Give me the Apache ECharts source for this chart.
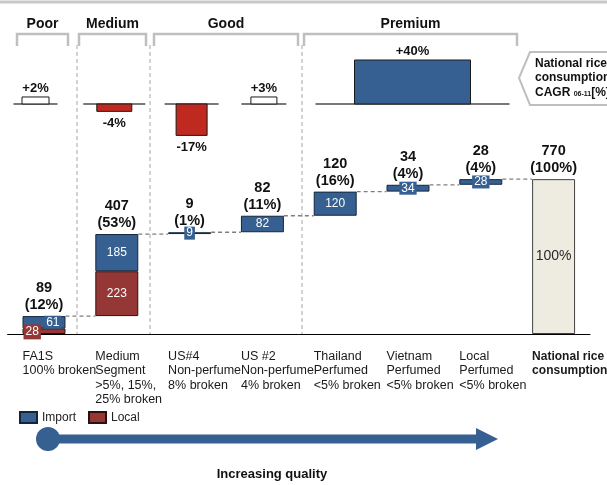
<!DOCTYPE html>
<html>
<head>
<meta charset="utf-8">
<script src="https://cdn.jsdelivr.net/npm/echarts@6/dist/echarts.min.js"></script>
<style>
  html, body { margin: 0; padding: 0; background: #ffffff; }
  #chart { width: 607px; height: 485px; }
</style>
</head>
<body>
<div id="chart"></div>
<script>
// ---- data ----
const categories = [
  'FA1S\n100% broken',
  'Medium\nSegment\n>5%, 15%,\n25% broken',
  'US#4\nNon-perfume\n8% broken',
  'US #2\nNon-perfume\n4% broken',
  'Thailand\nPerfumed\n<5% broken',
  'Vietnam\nPerfumed\n<5% broken',
  'Local\nPerfumed\n<5% broken',
  'National rice\nconsumption'
];
const importValues = [61, 185, 9, 82, 120, 34, 28, null];
const localValues = [28, 223, null, null, null, null, null, null];
const totalValue = 770;
const segmentTotals = [89, 407, 9, 82, 120, 34, 28, 770];
const segmentShares = [12, 53, 1, 11, 16, 4, 4, 100];
const qualityGroups = ['Poor', 'Medium', 'Good', 'Premium'];
const cagrGroups = ['Poor', 'Medium', 'Good', 'Good', 'Premium'];
const cagrValues = [2, -4, -17, 3, 40];
const legendNames = ['Import', 'Local'];

// ---- layout (pixels) ----
const FONT = 'Arial, "Liberation Sans", Helvetica, sans-serif';
const BLUE = '#376092';
const RED = '#953735';
const CAGR_RED = '#c0291f';
const GREY = '#bfbfbf';
const barShare = 0.59;                       // bar width as a share of a category band
const cagrSlot = [0, 1, 2, 3, 5];            // category slot each growth bar sits over
const cagrShift = [-8.5, -2.5, 2, 1.5, 4.5];
const cagrWidth = [27, 35, 31, 26, 116];
const cagrLineHalf = [22, 31, 27, 22.5, 97];
const groupBrackets = [[17, 68], [79, 146], [154, 298], [304, 517]];
const groupDividers = [77, 150, 302];

// ---- derived stacking values ----
const last = categories.length - 1;
const segmentSums = categories.map((_, i) => (importValues[i] || 0) + (localValues[i] || 0));
const baseValues = [];
const topLevels = [];
let running = 0;
for (let i = 0; i < categories.length; i++) {
  if (i === last) { baseValues.push(0); topLevels.push(totalValue); continue; }
  baseValues.push(running);
  running += segmentSums[i];
  topLevels.push(running);
}
const dash = v => (v == null ? '-' : v);

const chart = echarts.init(document.getElementById('chart'), null, { renderer: 'canvas' });

function cagrItem(params, api) {
  const k = api.value(2);
  const v = api.value(1);
  const zero = api.coord([cagrSlot[k], 0]);
  const cx = zero[0] + cagrShift[k];
  const y0 = zero[1];
  let y1 = api.coord([cagrSlot[k], v])[1];
  if (Math.abs(y1 - y0) < 7) y1 = y0 + (v >= 0 ? -7 : 7);
  const top = Math.min(y0, y1);
  const h = Math.abs(y1 - y0);
  const w = cagrWidth[k];
  const fill = v < 0 ? CAGR_RED : (v >= 10 ? BLUE : '#ffffff');
  const txt = (v > 0 ? '+' : '') + v + '%';
  return {
    type: 'group',
    children: [
      { type: 'line', shape: { x1: cx - cagrLineHalf[k], y1: y0, x2: cx + cagrLineHalf[k], y2: y0 },
        style: { stroke: '#4d4d4d', lineWidth: 1.5 } },
      { type: 'rect', shape: { x: cx - w / 2, y: top, width: w, height: h },
        style: { fill: fill, stroke: '#1a1a1a', lineWidth: 1 } },
      { type: 'text', x: cx, y: v >= 0 ? top - 8.5 : top + h + 12.5,
        style: { text: txt, font: 'bold 13px ' + FONT, fill: '#111',
                 align: 'center', verticalAlign: 'middle', textAlign: 'center', textVerticalAlign: 'middle' } }
    ]
  };
}

const valueLabel = (bg) => ({
  show: true, position: 'inside', color: '#fff', fontSize: 12, lineHeight: 13,
  fontFamily: FONT, backgroundColor: bg, padding: [0, 2]
});

const option = {
  animation: false,
  backgroundColor: '#ffffff',
  textStyle: { fontFamily: FONT },
  legend: {
    data: legendNames,
    left: 19, top: 411, padding: 0,
    itemWidth: 17, itemHeight: 11, itemGap: 12,
    icon: 'rect',
    textStyle: { fontSize: 12, color: '#222', fontFamily: FONT }
  },
  grid: [
    { left: 7.6, right: 17, top: 153, height: 181 },   // waterfall
    { left: 7.6, right: 17, top: 60, height: 80 }      // growth rates
  ],
  xAxis: [
    { type: 'category', gridIndex: 0, data: categories,
      axisLine: { lineStyle: { color: '#000', width: 1 } },
      axisTick: { show: false }, axisLabel: { show: false } },
    { type: 'category', gridIndex: 1, data: categories, show: false }
  ],
  yAxis: [
    { type: 'value', gridIndex: 0, min: 0, max: 900, show: false },
    { type: 'value', gridIndex: 1, min: -19.5, max: 23.8, show: false },
    { type: 'value', gridIndex: 1, min: -32.7, max: 40, show: false }
  ],
  series: [
    {
      name: 'base', type: 'bar', stack: 'w', barWidth: (barShare * 100) + '%',
      data: baseValues, silent: true,
      itemStyle: { color: 'transparent' }
    },
    {
      name: 'Local', type: 'bar', stack: 'w', barWidth: (barShare * 100) + '%',
      data: localValues.map((v, i) => i === 0
        ? { value: v, label: { position: [1, -4], padding: [1, 2] } }
        : dash(v)),
      itemStyle: { color: RED, borderColor: '#2b1110', borderWidth: 1 },
      label: valueLabel(RED)
    },
    {
      name: 'Import', type: 'bar', stack: 'w', barWidth: (barShare * 100) + '%',
      data: importValues.map((v, i) => i === 0
        ? { value: v, label: { position: 'insideRight', distance: 4 } }
        : dash(v)),
      itemStyle: { color: BLUE, borderColor: '#14253a', borderWidth: 1 },
      label: valueLabel(BLUE)
    },
    {
      name: 'Total', type: 'bar', stack: 'w', barWidth: (barShare * 100) + '%',
      data: categories.map((_, i) => (i === last ? totalValue : '-')),
      itemStyle: { color: '#eeece1', borderColor: '#404040', borderWidth: 1 },
      label: { show: true, position: 'inside', color: '#262626', fontSize: 14, fontFamily: FONT,
               formatter: () => segmentShares[last] + '%' }
    },
    {
      // dashed connectors between consecutive bars
      type: 'custom', xAxisIndex: 0, yAxisIndex: 0, silent: true, clip: false, z: 1,
      data: topLevels.slice(0, last).map((lvl, i) => [i, lvl]),
      renderItem(params, api) {
        const i = api.value(0), lvl = api.value(1);
        const a = api.coord([i, lvl]);
        const b = api.coord([i + 1, lvl]);
        const half = api.size([1, 0])[0] * barShare / 2;
        return { type: 'line',
                 shape: { x1: a[0] + half, y1: a[1], x2: b[0] - half, y2: b[1] },
                 style: { stroke: '#7f7f7f', lineWidth: 1.3, lineDash: [4, 3] } };
      }
    },
    {
      // value and share above each bar
      type: 'custom', xAxisIndex: 0, yAxisIndex: 0, silent: true, clip: false, z: 5,
      data: topLevels.map((lvl, i) => [i, lvl]),
      renderItem(params, api) {
        const i = api.value(0);
        const p = api.coord([i, api.value(1)]);
        return { type: 'text', x: p[0], y: p[1] - 2.5,
                 style: { text: segmentTotals[i] + '\n(' + segmentShares[i] + '%)',
                          font: 'bold 14.5px ' + FONT, lineHeight: 17, fill: '#111',
                          align: 'center', verticalAlign: 'bottom',
                          textAlign: 'center', textVerticalAlign: 'bottom' } };
      }
    },
    {
      // category names under the axis, left-aligned with each bar
      type: 'custom', xAxisIndex: 0, yAxisIndex: 0, silent: true, clip: false,
      data: categories.map((_, i) => [i, 0]),
      renderItem(params, api) {
        const i = api.value(0);
        const p = api.coord([i, 0]);
        const half = api.size([1, 0])[0] * barShare / 2;
        return { type: 'text', x: p[0] - half, y: p[1] + 15,
                 style: { text: categories[i],
                          font: (i === last ? 'bold 12px ' : '12.5px ') + FONT,
                          lineHeight: 14.5, fill: '#1a1a1a',
                          align: 'left', verticalAlign: 'top',
                          textAlign: 'left', textVerticalAlign: 'top' } };
      }
    },
    {
      // growth rates, Poor to Good
      type: 'custom', xAxisIndex: 1, yAxisIndex: 1, silent: true, clip: false,
      data: cagrValues.map((v, k) => [cagrSlot[k], v, k]).filter(d => cagrGroups[d[2]] !== 'Premium'),
      renderItem: cagrItem
    },
    {
      // growth rate, Premium
      type: 'custom', xAxisIndex: 1, yAxisIndex: 2, silent: true, clip: false,
      data: cagrValues.map((v, k) => [cagrSlot[k], v, k]).filter(d => cagrGroups[d[2]] === 'Premium'),
      renderItem: cagrItem
    }
  ],
  graphic: [
    // top rule
    { type: 'line', shape: { x1: 0, y1: 2, x2: 607, y2: 2 }, style: { stroke: '#c8c8c8', lineWidth: 3 }, silent: true },
    // group dividers
    ...groupDividers.map(x => ({
      type: 'line', shape: { x1: x, y1: 45, x2: x, y2: 334 },
      style: { stroke: '#a6a6a6', lineWidth: 1, lineDash: [4, 3] }, silent: true
    })),
    // group brackets and names
    ...groupBrackets.map(([a, b]) => ({
      type: 'polyline', shape: { points: [[a, 46], [a, 34], [b, 34], [b, 46]] },
      style: { stroke: GREY, lineWidth: 2.5, fill: null }, silent: true
    })),
    ...groupBrackets.map(([a, b], g) => ({
      type: 'text', x: (a + b) / 2, y: 24,
      style: { text: qualityGroups[g], font: 'bold 14px ' + FONT, fill: '#111',
               align: 'center', verticalAlign: 'middle', textAlign: 'center', textVerticalAlign: 'middle' },
      silent: true
    })),
    // growth-rate callout
    { type: 'polygon', shape: { points: [[519, 78], [530, 52], [612, 52], [612, 105], [530, 105]] },
      style: { fill: '#ffffff', stroke: GREY, lineWidth: 2 }, silent: true },
    { type: 'text', x: 535, y: 56,
      style: { text: '{b|National rice}\n{b|consumption}\n{b|CAGR }{s|06-11}{b|[%]}',
               rich: { b: { font: 'bold 12px ' + FONT, lineHeight: 14.5, fill: '#111' },
                       s: { font: 'bold 7px ' + FONT, lineHeight: 14.5, fill: '#111', padding: [4, 0, 0, 0] } },
               align: 'left', verticalAlign: 'top', textAlign: 'left', textVerticalAlign: 'top' },
      silent: true },
    // quality arrow
    { type: 'rect', shape: { x: 48, y: 434.5, width: 430, height: 9 }, style: { fill: BLUE }, silent: true },
    { type: 'circle', shape: { cx: 48, cy: 439, r: 12 }, style: { fill: BLUE }, silent: true },
    { type: 'polygon', shape: { points: [[476, 428], [498, 439], [476, 450]] }, style: { fill: BLUE }, silent: true },
    { type: 'text', x: 272, y: 474,
      style: { text: 'Increasing quality', font: 'bold 13px ' + FONT, fill: '#111',
               align: 'center', verticalAlign: 'middle', textAlign: 'center', textVerticalAlign: 'middle' },
      silent: true }
  ]
};

chart.setOption(option);
</script>
</body>
</html>
